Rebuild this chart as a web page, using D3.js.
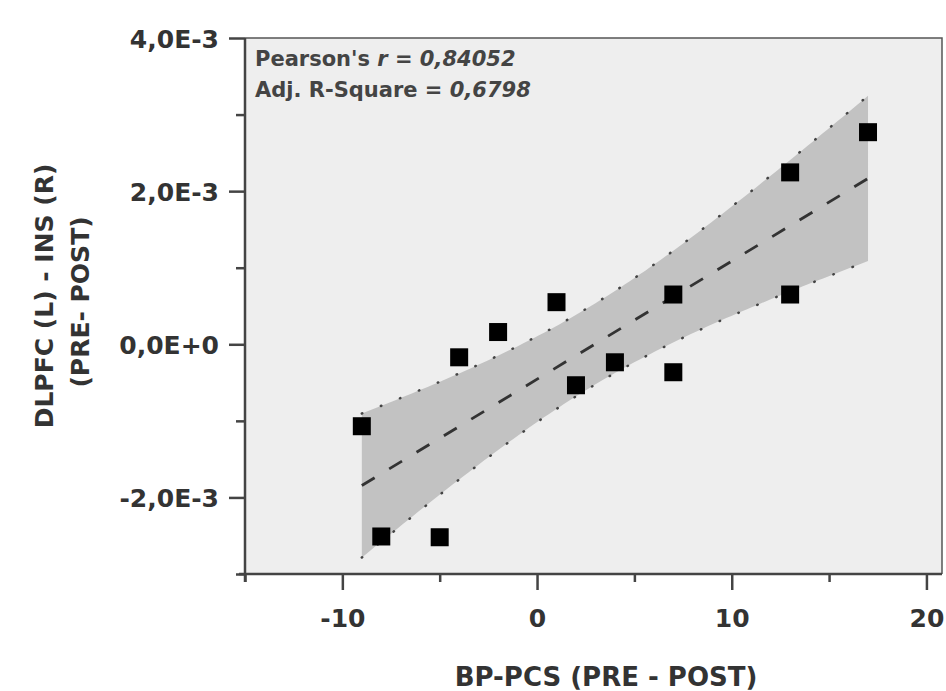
<!DOCTYPE html>
<html>
<head>
<meta charset="utf-8">
<script src="https://cdn.jsdelivr.net/npm/d3@7"></script>
<style>
  html, body { margin: 0; padding: 0; background: #fff; }
  svg { display: block; }
  text { font-family: "DejaVu Sans", Verdana, sans-serif; font-weight: bold; fill: #333; }
</style>
</head>
<body>
<svg id="chart" width="946" height="691"></svg>
<script>
// ---- data ----
const xValues = [-9, -8, -5, -4, -2, 1, 2, 4, 7, 7, 13, 13, 17];
const yValues = [-1.07e-3, -2.51e-3, -2.52e-3, -0.17e-3, 0.16e-3, 0.55e-3, -0.535e-3, -0.235e-3, 0.65e-3, -0.365e-3, 2.245e-3, 0.65e-3, 2.77e-3];
const xTickValues = [-15, -10, -5, 0, 5, 10, 15, 20];
const xTickLabels = ["", "-10", "", "0", "", "10", "", "20"];
const yTickValues = [-3e-3, -2e-3, -1e-3, 0, 1e-3, 2e-3, 3e-3, 4e-3];
const yTickLabels = ["", "-2,0E-3", "", "0,0E+0", "", "2,0E-3", "", "4,0E-3"];
const statsLabels = ["Pearson's ", "r", " = ", "0,84052"];
const statsLabels2 = ["Adj. R-Square = ", "0,6798"];
const xTitle = "BP-PCS (PRE - POST)";
const yTitleLines = ["DLPFC (L) - INS (R)", "(PRE- POST)"];
const T_CRIT = 2.20099; // t(0.975, df = 11)

const svg = d3.select("#chart");
const pLeft = 245, pRight = 942, pTop = 38, pBottom = 574;

const x = d3.scaleLinear().domain([-15, 20.8]).range([pLeft, pRight]);
const y = d3.scaleLinear().domain([-3e-3, 4e-3]).range([pBottom, pTop]);

// plot background
svg.append("rect")
  .attr("x", pLeft).attr("y", pTop)
  .attr("width", pRight - pLeft).attr("height", pBottom - pTop)
  .attr("fill", "#eeeeee");

// ---- linear regression + 95% confidence band ----
const n = xValues.length;
const mx = d3.mean(xValues), my = d3.mean(yValues);
let sxx = 0, sxy = 0;
for (let i = 0; i < n; i++) {
  sxx += (xValues[i] - mx) ** 2;
  sxy += (xValues[i] - mx) * (yValues[i] - my);
}
const slope = sxy / sxx;
const intercept = my - slope * mx;
let sse = 0;
for (let i = 0; i < n; i++) sse += (yValues[i] - (intercept + slope * xValues[i])) ** 2;
const s = Math.sqrt(sse / (n - 2));
const [xmin, xmax] = d3.extent(xValues);
const samples = d3.range(0, 101).map(k => {
  const xv = xmin + (xmax - xmin) * k / 100;
  const fit = intercept + slope * xv;
  const half = T_CRIT * s * Math.sqrt(1 / n + (xv - mx) ** 2 / sxx);
  return { x: xv, fit, lo: fit - half, hi: fit + half };
});

svg.append("path")
  .datum(samples)
  .attr("fill", "#c2c2c2")
  .attr("d", d3.area().x(d => x(d.x)).y0(d => y(d.lo)).y1(d => y(d.hi)));

["hi", "lo"].forEach(key => {
  svg.append("path")
    .datum(samples)
    .attr("fill", "none")
    .attr("stroke", "#444")
    .attr("stroke-width", 2.5)
    .attr("stroke-linecap", "round")
    .attr("stroke-dasharray", "0.5,20")
    .attr("d", d3.line().x(d => x(d.x)).y(d => y(d[key])));
});

svg.append("path")
  .datum([samples[0], samples[samples.length - 1]])
  .attr("fill", "none")
  .attr("stroke", "#333")
  .attr("stroke-width", 2.8)
  .attr("stroke-dasharray", "15,17")
  .attr("d", d3.line().x(d => x(d.x)).y(d => y(d.fit)));

// points
const ms = 18;
svg.append("g").selectAll("rect")
  .data(xValues.map((xv, i) => ({ x: xv, y: yValues[i] })))
  .join("rect")
  .attr("x", d => x(d.x) - ms / 2)
  .attr("y", d => y(d.y) - ms / 2)
  .attr("width", ms).attr("height", ms)
  .attr("fill", "#000");

// frame top/right
svg.append("path")
  .attr("d", `M${pLeft},${pTop}H${pRight}V${pBottom}`)
  .attr("fill", "none").attr("stroke", "#555").attr("stroke-width", 1.5);

// ---- axes ----
const xAxis = d3.axisBottom(x).tickValues(xTickValues).tickFormat(() => "").tickSizeOuter(0);
const gx = svg.append("g").attr("transform", `translate(0,${pBottom})`).call(xAxis);
gx.select(".domain").attr("stroke", "#444").attr("stroke-width", 2.5)
  .attr("d", `M${pLeft - 6},0H${pRight}`);
gx.selectAll(".tick line")
  .attr("stroke", "#444").attr("stroke-width", 2.5)
  .attr("y2", (d, i) => xTickLabels[i] ? 16 : 8);
gx.selectAll(".tick").append("text")
  .attr("y", 53)
  .attr("text-anchor", "middle")
  .style("font-size", "25px")
  .text((d, i) => xTickLabels[i]);

const yAxis = d3.axisLeft(y).tickValues(yTickValues).tickFormat(() => "").tickSizeOuter(0);
const gy = svg.append("g").attr("transform", `translate(${pLeft},0)`).call(yAxis);
gy.select(".domain").attr("stroke", "#444").attr("stroke-width", 2.5)
  .attr("d", `M0,${pTop}V${pBottom + 8}`);
gy.selectAll(".tick line")
  .attr("stroke", "#444").attr("stroke-width", 2.5)
  .attr("x2", (d, i) => yTickLabels[i] ? -16 : -9);
gy.selectAll(".tick").append("text")
  .attr("x", -26)
  .attr("dy", "0.36em")
  .attr("text-anchor", "end")
  .style("font-size", "25px")
  .text((d, i) => yTickLabels[i]);

// ---- titles ----
svg.append("text")
  .attr("x", 606).attr("y", 686)
  .attr("text-anchor", "middle")
  .style("font-size", "26px")
  .text(xTitle);

const yTitlePos = [[53, 296], [89, 302]];
yTitleLines.forEach((t, i) => {
  svg.append("text")
    .attr("transform", `translate(${yTitlePos[i][0]},${yTitlePos[i][1]}) rotate(-90)`)
    .attr("text-anchor", "middle")
    .style("font-size", "25px")
    .text(t);
});

// ---- stats annotation ----
const t1 = svg.append("text").attr("x", 255).attr("y", 66).style("font-size", "21px").style("fill", "#444");
t1.append("tspan").text(statsLabels[0]);
t1.append("tspan").style("font-style", "italic").text(statsLabels[1]);
t1.append("tspan").text(statsLabels[2]);
t1.append("tspan").style("font-style", "italic").text(statsLabels[3]);
const t2 = svg.append("text").attr("x", 255).attr("y", 97).style("font-size", "21px").style("fill", "#444");
t2.append("tspan").text(statsLabels2[0]);
t2.append("tspan").style("font-style", "italic").text(statsLabels2[1]);
</script>
</body>
</html>
